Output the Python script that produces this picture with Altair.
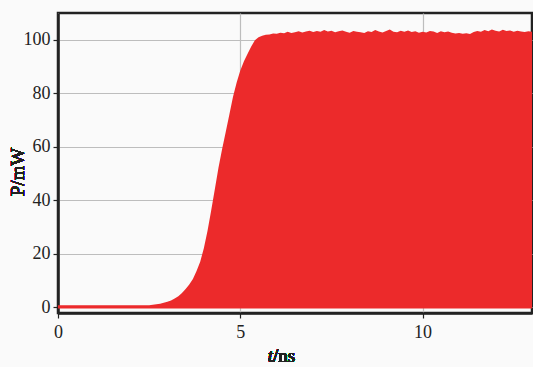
import altair as alt
import pandas as pd

# time (ns) and envelope of optical power (mW)
t_ns = [0.0, 2.5, 2.6, 2.7, 2.8, 2.9, 3.0, 3.1, 3.2, 3.3, 3.4, 3.5, 3.6, 3.7, 3.8, 3.9,
        4.0, 4.1, 4.2, 4.3, 4.4, 4.5, 4.6, 4.7, 4.8, 4.9, 5.0, 5.1, 5.2, 5.3, 5.4, 5.5,
        5.6, 5.7, 5.8, 5.9, 6.0, 6.1, 6.2, 6.3, 6.4, 6.5, 6.6, 6.7, 6.8, 6.9, 7.0, 7.1,
        7.2, 7.3, 7.4, 7.5, 7.6, 7.7, 7.8, 7.9, 8.0, 8.1, 8.2, 8.3, 8.4, 8.5, 8.6, 8.7,
        8.8, 8.9, 9.0, 9.1, 9.2, 9.3, 9.4, 9.5, 9.6, 9.7, 9.8, 9.9, 10.0, 10.1, 10.2,
        10.3, 10.4, 10.5, 10.6, 10.7, 10.8, 10.9, 11.0, 11.1, 11.2, 11.3, 11.4, 11.5,
        11.6, 11.7, 11.8, 11.9, 12.0, 12.1, 12.2, 12.3, 12.4, 12.5, 12.6, 12.7, 12.8,
        12.9, 13.0]
p_mw = [0.7, 0.7, 0.9, 1.1, 1.3, 1.6, 2.0, 2.5, 3.2, 4.1, 5.3, 6.8, 8.5, 10.5, 13.5, 17.0,
        22.0, 28.5, 36.0, 44.0, 52.0, 59.0, 65.5, 72.0, 78.7, 84.0, 88.5, 92.0, 94.8, 97.5, 99.8, 100.9,
        101.5, 101.9, 102.0, 102.3, 102.2, 102.6, 102.4, 103.0, 102.5, 102.8, 103.2, 102.7, 103.1, 103.4, 102.9, 103.3,
        103.0, 103.6, 103.1, 103.4, 102.8, 103.2, 103.5, 103.0, 102.6, 103.3, 103.0, 102.8, 102.5, 103.2, 102.9, 103.6,
        103.1, 102.7, 103.3, 103.8, 103.0, 102.8, 103.4, 103.0, 103.5, 102.9, 103.2, 102.6, 103.0, 102.7, 103.3,
        103.1, 102.5, 103.2, 102.8, 103.1, 102.6, 102.3, 102.5, 102.2, 102.4, 102.1, 102.9, 103.3,
        103.0, 103.6, 103.2, 103.8, 103.4, 103.1, 103.7, 103.3, 103.5, 103.0, 103.4, 103.1, 102.9,
        103.2, 103.0]
base_mw = -0.5

x_ticks = [0, 5, 10]
y_ticks = [0, 20, 40, 60, 80, 100]

df = pd.DataFrame({"t": t_ns, "p": p_mw})

SERIF = "'Liberation Serif', 'Times New Roman', serif"
RED = "#EC2A2B"

xs = alt.Scale(domain=[0, 13], nice=False, zero=False)
ys = alt.Scale(domain=[-2.2, 110], nice=False, zero=False)

area = alt.Chart(df).mark_area(color=RED, opacity=1, interpolate="linear").encode(
    x=alt.X("t:Q", scale=xs,
            axis=alt.Axis(values=x_ticks, title=None, grid=True, format="d",
                          labelPadding=5, tickSize=5, labelFlush=False)),
    y=alt.Y("p:Q", scale=ys,
            axis=alt.Axis(values=y_ticks, title=None, grid=True, format="d",
                          labelPadding=3, tickSize=5, labelFlush=False)),
    y2=alt.datum(base_mw),
)

t_lbl = alt.Chart(df).mark_text(
    text="t", font=SERIF, fontSize=19, fontStyle="italic", align="right",
    baseline="alphabetic", color="#222"
).encode(x=alt.value(215), y=alt.value(349))
ns_lbl = alt.Chart(df).mark_text(
    text="/ns", font=SERIF, fontSize=19, align="left",
    baseline="alphabetic", color="#222"
).encode(x=alt.value(215), y=alt.value(349))
p_lbl = alt.Chart(df).mark_text(
    text="P/mW", font=SERIF, fontSize=19, angle=270, align="center",
    baseline="middle", color="#222"
).encode(x=alt.value(-40), y=alt.value(159))

chart = alt.layer(area, t_lbl, ns_lbl, p_lbl).properties(
    width=474, height=300,
    autosize=alt.AutoSizeParams(type="none"),
    padding={"left": 58, "top": 13, "right": 1, "bottom": 54},
    background="#fafafa",
).configure_view(
    stroke="#222", strokeWidth=2.5, fill="#fafafa"
).configure_axis(
    labelFont=SERIF, labelFontSize=18, labelColor="#222",
    domainColor="#222", domainWidth=2.5, tickColor="#222", tickWidth=1.2,
    gridColor="#bdbdbd", gridWidth=1.2,
)

chart.save("out.html", embed_options={"renderer": "svg", "actions": False})
